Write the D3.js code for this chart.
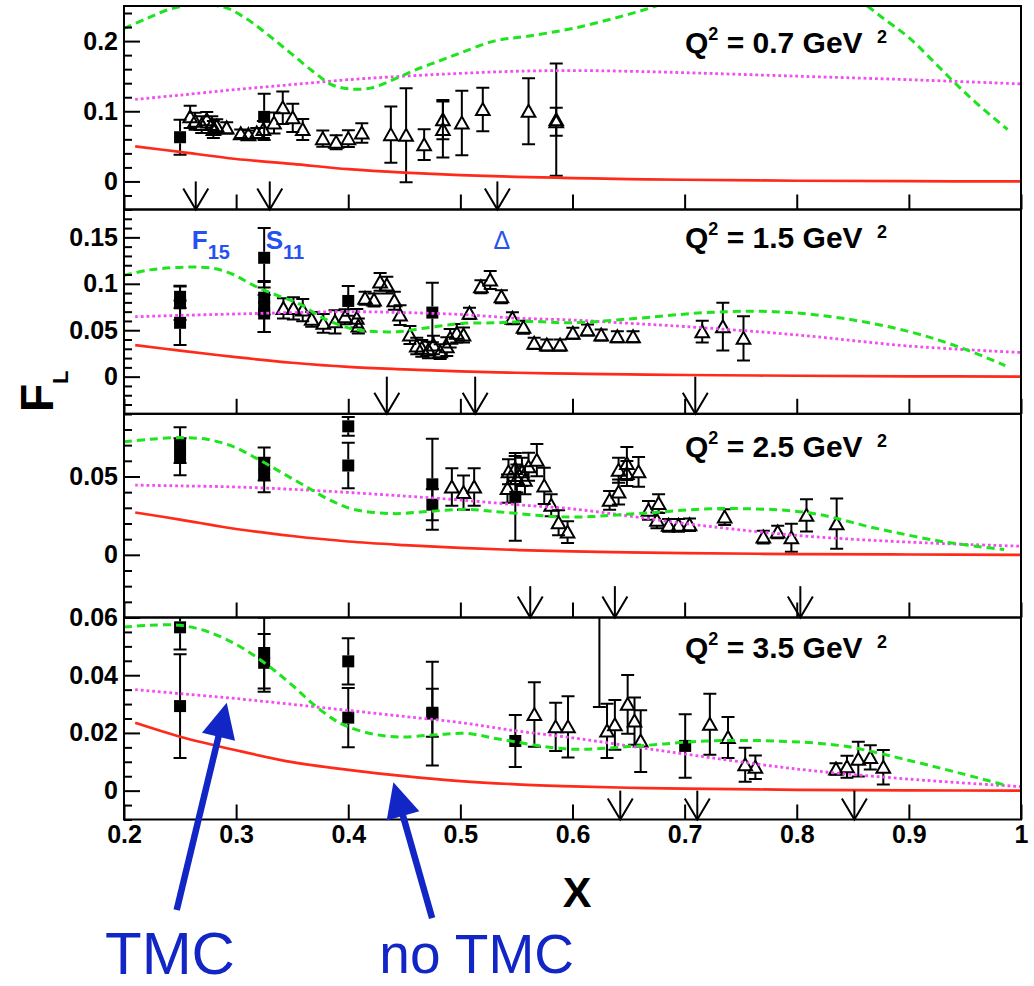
<!DOCTYPE html>
<html><head><meta charset="utf-8">
<script src="https://cdn.jsdelivr.net/npm/d3@7"></script>
<style>body{margin:0;background:#fff}svg{display:block}text{white-space:pre}</style>
</head><body>
<svg id="c" width="1034" height="986"></svg>
<script>
// ---------------- data ----------------
const q2Values = ["0.7", "1.5", "2.5", "3.5"];
const yDomains = [[-0.04, 0.25], [-0.04, 0.18], [-0.04, 0.09], [-0.01, 0.06]];
const yMajorTicks = [[0, 0.1, 0.2], [0, 0.05, 0.1, 0.15], [0, 0.05], [0, 0.02, 0.04, 0.06]];
const yMajorLabels = [["0", "0.1", "0.2"], ["0", "0.05", "0.1", "0.15"], ["0", "0.05"], ["0", "0.02", "0.04", "0.06"]];
const yMinorStep = [0.02, 0.01, 0.01, 0.005];
const xTicks = [0.2, 0.3, 0.4, 0.5, 0.6, 0.7, 0.8, 0.9, 1.0];
const xTickLabels = ["0.2", "0.3", "0.4", "0.5", "0.6", "0.7", "0.8", "0.9", "1"];

// resonance arrows (x positions) and the F_L value they start from
const p1Arrows = [0.264, 0.33, 0.533];
const p2Arrows = [0.4344, 0.5132, 0.7095];
const p3Arrows = [0.5623, 0.6378, 0.8032];
const p4Arrows = [0.6426, 0.7113, 0.8514];
const arrowStart = [0, 0, -0.02, 0];
const resonanceNames = [["F", "15"], ["S", "11"], ["\u0394", ""]];

// data points: [x, F_L, error]
const p1Squares = [[0.25, 0.063, 0.025], [0.325, 0.092, 0.033]];
const p1Triangles = [
  [0.259, 0.092, 0.016], [0.2634, 0.0857, 0.012], [0.2693, 0.081, 0.012], [0.2738, 0.088, 0.011],
  [0.2783, 0.081, 0.012], [0.2797, 0.074, 0.012], [0.2827, 0.0786, 0.010], [0.2916, 0.0763, 0.008],
  [0.3041, 0.068, 0.006], [0.311, 0.0667, 0.006], [0.3184, 0.069, 0.007], [0.3243, 0.074, 0.012],
  [0.3338, 0.0834, 0.015], [0.3416, 0.105, 0.023], [0.3505, 0.0906, 0.020], [0.3594, 0.074, 0.015],
  [0.3773, 0.061, 0.0115], [0.3892, 0.0557, 0.010], [0.4001, 0.061, 0.012], [0.4121, 0.069, 0.014],
  [0.438, 0.0667, 0.040], [0.4516, 0.0657, 0.067], [0.4677, 0.0524, 0.022], [0.4844, 0.088, 0.028],
  [0.4844, 0.074, 0.040], [0.5013, 0.0834, 0.046], [0.52, 0.1024, 0.031], [0.5608, 0.100, 0.047],
  [0.5855, 0.088, 0.080], [0.5855, 0.085, 0.020]];

const p2Squares = [[0.25, 0.086, 0.012], [0.25, 0.079, 0.018], [0.25, 0.058, 0.024],
  [0.325, 0.128, 0.032], [0.325, 0.085, 0.018], [0.325, 0.075, 0.027], [0.325, 0.068, 0.020],
  [0.4, 0.0815, 0.016], [0.475, 0.069, 0.032]];
const p2Triangles = [
  [0.3422, 0.0735, 0.011], [0.3511, 0.0735, 0.012], [0.3594, 0.0717, 0.012], [0.3674, 0.0617, 0.008],
  [0.3777, 0.0574, 0.010], [0.3882, 0.0591, 0.0125], [0.3972, 0.0645, 0.008], [0.4076, 0.0628, 0.010],
  [0.409, 0.0545, 0.008], [0.415, 0.0843, 0.007], [0.423, 0.0825, 0.007], [0.4284, 0.102, 0.0095],
  [0.4344, 0.0986, 0.009], [0.4411, 0.0817, 0.0097], [0.4462, 0.0663, 0.0107], [0.455, 0.0448, 0.0097],
  [0.4611, 0.033, 0.009], [0.4656, 0.0305, 0.009], [0.4715, 0.0287, 0.009], [0.476, 0.034, 0.010],
  [0.482, 0.0269, 0.008], [0.4879, 0.0323, 0.010], [0.4909, 0.0413, 0.010], [0.4968, 0.0467, 0.010],
  [0.5028, 0.0448, 0.008], [0.5081, 0.0682, 0.006], [0.5183, 0.0968, 0.007], [0.5266, 0.104, 0.0097],
  [0.5366, 0.086, 0.007], [0.5464, 0.0628, 0.0065], [0.5563, 0.0531, 0.007], [0.5658, 0.0359, 0.006],
  [0.5771, 0.034, 0.006], [0.5889, 0.034, 0.006], [0.6003, 0.0467, 0.006], [0.6134, 0.0502, 0.006],
  [0.6256, 0.0448, 0.006], [0.64, 0.043, 0.006], [0.654, 0.043, 0.006], [0.7157, 0.0484, 0.0117],
  [0.7341, 0.0538, 0.0257], [0.7525, 0.0413, 0.0238]];

const p3Squares = [[0.25, 0.070, 0.0114], [0.25, 0.0626, 0.0118], [0.325, 0.058, 0.0105], [0.325, 0.051, 0.011],
  [0.4, 0.082, 0.006], [0.4, 0.057, 0.0145], [0.475, 0.045, 0.029], [0.475, 0.032, 0.010], [0.549, 0.037, 0.028]];
const p3Triangles = [
  [0.4924, 0.0433, 0.012], [0.5028, 0.0397, 0.011], [0.5123, 0.0433, 0.012], [0.542, 0.0423, 0.009],
  [0.5429, 0.053, 0.008], [0.5489, 0.0551, 0.008], [0.5504, 0.0487, 0.009], [0.5549, 0.053, 0.009],
  [0.5576, 0.0476, 0.009], [0.5608, 0.0562, 0.009], [0.5682, 0.0604, 0.0103], [0.5748, 0.044, 0.0115],
  [0.581, 0.0316, 0.007], [0.5876, 0.0205, 0.008], [0.5956, 0.0145, 0.007], [0.6331, 0.0348, 0.006],
  [0.6411, 0.0401, 0.008], [0.6411, 0.054, 0.008], [0.6485, 0.0583, 0.0105], [0.6485, 0.0519, 0.008],
  [0.6589, 0.053, 0.0095], [0.6678, 0.0284, 0.006], [0.6768, 0.0327, 0.006], [0.6753, 0.022, 0.005],
  [0.6857, 0.0188, 0.004], [0.6946, 0.0188, 0.004], [0.7044, 0.0192, 0.004], [0.7357, 0.0241, 0.005],
  [0.7702, 0.0113, 0.004], [0.783, 0.0145, 0.004], [0.7952, 0.0109, 0.0089], [0.8087, 0.0252, 0.0103],
  [0.8356, 0.0199, 0.016]];

const p4Squares = [[0.25, 0.0566, 0.0077], [0.25, 0.0293, 0.018], [0.325, 0.0477, 0.0123], [0.325, 0.0443, 0.010],
  [0.4, 0.0448, 0.008], [0.4, 0.0253, 0.0103], [0.475, 0.0267, 0.018], [0.475, 0.027, 0.0083],
  [0.549, 0.0172, 0.009], [0.7005, 0.0155, 0.011]];
const p4Triangles = [
  [0.566, 0.0264, 0.0112], [0.585, 0.0221, 0.0084], [0.596, 0.0221, 0.0106], [0.624, 0.085, 0.056],
  [0.6308, 0.0207, 0.0094], [0.6378, 0.0228, 0.0086], [0.6492, 0.0299, 0.0102], [0.6553, 0.0241, 0.0082],
  [0.6608, 0.0172, 0.0107], [0.7225, 0.023, 0.0106], [0.7387, 0.0184, 0.0071], [0.754, 0.009, 0.0059],
  [0.7631, 0.0081, 0.0041], [0.835, 0.0075, 0.002], [0.8448, 0.0083, 0.0038], [0.8549, 0.0109, 0.006],
  [0.8656, 0.0115, 0.0042], [0.8772, 0.0081, 0.006]];

// model curves: red = no TMC, magenta = TMC (common x grid); green dashed on its own grid
const curveX = [0.21, 0.25, 0.3, 0.35, 0.4, 0.45, 0.5, 0.55, 0.6, 0.65, 0.7, 0.8, 0.9, 1.0];
const p1Red = [0.050, 0.042, 0.032, 0.025, 0.0175, 0.0125, 0.009, 0.0065, 0.0048, 0.0034, 0.0024, 0.001, 0.0003, 0];
const p2Red = [0.034, 0.028, 0.021, 0.015, 0.0105, 0.0078, 0.0056, 0.0042, 0.0032, 0.0025, 0.0018, 0.001, 0.0004, 0];
const p3Red = [0.027, 0.0225, 0.0165, 0.012, 0.0085, 0.0062, 0.0044, 0.0031, 0.0022, 0.0016, 0.0011, 0.0005, 0.0002, 0];
const p4Red = [0.0235, 0.0187, 0.014, 0.0099, 0.0072, 0.005, 0.0033, 0.0022, 0.0015, 0.001, 0.0007, 0.0003, 0.0001, 0];
const p1Magenta = [0.117, 0.123, 0.131, 0.138, 0.145, 0.150, 0.154, 0.157, 0.158, 0.157, 0.155, 0.150, 0.145, 0.139];
const p2Magenta = [0.0645, 0.066, 0.0675, 0.069, 0.070, 0.069, 0.067, 0.063, 0.061, 0.0575, 0.054, 0.045, 0.033, 0.026];
const p3Magenta = [0.0445, 0.044, 0.0433, 0.0418, 0.0398, 0.0375, 0.035, 0.032, 0.0293, 0.0248, 0.020, 0.0124, 0.0081, 0.0055];
const p4Magenta = [0.035, 0.0336, 0.0319, 0.0299, 0.0278, 0.0257, 0.0236, 0.0207, 0.0183, 0.0155, 0.0127, 0.0075, 0.004, 0.0014];

const p1GreenX = [0.2, 0.22, 0.24, 0.265, 0.29, 0.31, 0.33, 0.35, 0.37, 0.385, 0.40, 0.42, 0.44, 0.46, 0.48, 0.5, 0.53, 0.56, 0.6, 0.65, 0.7, 0.75, 0.8, 0.85, 0.88, 0.9, 0.92, 0.94, 0.96, 0.988];
const p1Green = [0.218, 0.232, 0.245, 0.252, 0.248, 0.231, 0.207, 0.181, 0.155, 0.138, 0.132, 0.133, 0.145, 0.159, 0.171, 0.183, 0.200, 0.207, 0.218, 0.238, 0.262, 0.278, 0.28, 0.262, 0.229, 0.205, 0.174, 0.142, 0.112, 0.074];
const p2GreenX = [0.2, 0.223, 0.256, 0.28, 0.2975, 0.315, 0.336, 0.357, 0.378, 0.4, 0.4135, 0.4433, 0.473, 0.5028, 0.5326, 0.562, 0.597, 0.658, 0.719, 0.78, 0.841, 0.902, 0.948, 0.986];
const p2Green = [0.109, 0.115, 0.118, 0.1165, 0.110, 0.0986, 0.0878, 0.078, 0.0628, 0.0525, 0.0495, 0.0484, 0.0531, 0.0574, 0.058, 0.0595, 0.058, 0.0628, 0.069, 0.070, 0.0628, 0.048, 0.0305, 0.0118];
const p3GreenX = [0.2, 0.223, 0.25, 0.274, 0.2975, 0.321, 0.342, 0.363, 0.384, 0.405, 0.44, 0.473, 0.506, 0.5355, 0.597, 0.658, 0.731, 0.81, 0.872, 0.933, 0.985];
const p3Green = [0.0722, 0.0737, 0.0748, 0.0737, 0.069, 0.0604, 0.0519, 0.0433, 0.0348, 0.029, 0.0263, 0.0278, 0.029, 0.0273, 0.0241, 0.0263, 0.0295, 0.0269, 0.0167, 0.0081, 0.0034];
const p4GreenX = [0.2, 0.223, 0.25, 0.274, 0.2975, 0.315, 0.333, 0.351, 0.369, 0.387, 0.4, 0.4225, 0.446, 0.476, 0.506, 0.5355, 0.597, 0.658, 0.719, 0.78, 0.841, 0.902, 0.948, 0.988];
const p4Green = [0.0567, 0.0573, 0.0573, 0.0552, 0.0512, 0.0471, 0.042, 0.0362, 0.0299, 0.0247, 0.0221, 0.0196, 0.0186, 0.0193, 0.0198, 0.0178, 0.0144, 0.0155, 0.0172, 0.0172, 0.0155, 0.0103, 0.0058, 0.0017];

// annotation arrows in the bottom panel (panel-4 data coordinates)
const annotLabels = ["TMC", "no TMC"];
const annotTip = [[0.2916, 0.0305], [0.4403, 0.0029]];
const annotTail = [[0.247, -0.0414], [0.4748, -0.0442]];
const annotLabelX = [0.241, 0.5145];

// ---------------- drawing ----------------
const svg = d3.select("#c");
const FONT = "'Liberation Sans', Arial, Helvetica, sans-serif";
const edges = [6, 209.5, 413.8, 617.5, 819.5];
const x = d3.scaleLinear().domain([0.2, 1]).range([124, 1021]);
const RED = "#ff2a1a", MAG = "#f24cf2", GREEN = "#1ee41e";
const BLUE = "#2650f0", DBLUE = "#1226c6";

const panels = [
  {sq: p1Squares, tri: p1Triangles, red: p1Red, mag: p1Magenta, gx: p1GreenX, gy: p1Green, arrows: p1Arrows},
  {sq: p2Squares, tri: p2Triangles, red: p2Red, mag: p2Magenta, gx: p2GreenX, gy: p2Green, arrows: p2Arrows},
  {sq: p3Squares, tri: p3Triangles, red: p3Red, mag: p3Magenta, gx: p3GreenX, gy: p3Green, arrows: p3Arrows},
  {sq: p4Squares, tri: p4Triangles, red: p4Red, mag: p4Magenta, gx: p4GreenX, gy: p4Green, arrows: p4Arrows}
];
const qLabelY = [53, 248, 457, 658];
const yScales = [];

panels.forEach((p, i) => {
  const top = edges[i], bot = edges[i + 1];
  const y = d3.scaleLinear().domain(yDomains[i]).range([bot, top]);
  yScales.push(y);
  const cid = "clip" + i;
  svg.append("clipPath").attr("id", cid).append("rect")
    .attr("x", 124).attr("y", top).attr("width", 897).attr("height", bot - top);
  const g = svg.append("g");
  const cg = g.append("g").attr("clip-path", `url(#${cid})`);

  // error bars
  const eb = cg.append("g").attr("stroke", "#000").attr("stroke-width", 2).attr("fill", "none");
  function errBars(data, halfUp, halfDn) {
    data.forEach(d => {
      const cx = x(d[0]), cy = y(d[1]), t = y(d[1] + d[2]), b = y(d[1] - d[2]);
      if (cy - halfUp > t) eb.append("line").attr("x1", cx).attr("x2", cx).attr("y1", t).attr("y2", cy - halfUp);
      if (cy + halfDn < b) eb.append("line").attr("x1", cx).attr("x2", cx).attr("y1", cy + halfDn).attr("y2", b);
      eb.append("line").attr("x1", cx - 6.5).attr("x2", cx + 6.5).attr("y1", t).attr("y2", t);
      eb.append("line").attr("x1", cx - 6.5).attr("x2", cx + 6.5).attr("y1", b).attr("y2", b);
    });
  }
  errBars(p.sq, 6, 6);
  errBars(p.tri, 6.5, 5.5);
  cg.append("g").selectAll("rect").data(p.sq).join("rect")
    .attr("x", d => x(d[0]) - 6).attr("y", d => y(d[1]) - 6)
    .attr("width", 12).attr("height", 12).attr("fill", "#000");
  cg.append("g").selectAll("path").data(p.tri).join("path")
    .attr("d", d => { const cx = x(d[0]), cy = y(d[1]); return `M${cx},${cy - 6.5}L${cx + 6.8},${cy + 5.5}L${cx - 6.8},${cy + 5.5}Z`; })
    .attr("fill", "none").attr("stroke", "#000").attr("stroke-width", 2);

  // curves
  const line = d3.line().x(d => x(d[0])).y(d => y(d[1])).curve(d3.curveCatmullRom.alpha(0.5));
  cg.append("path").attr("d", line(curveX.map((v, k) => [v, p.red[k]])))
    .attr("fill", "none").attr("stroke", RED).attr("stroke-width", 2.7);
  cg.append("path").attr("d", line(curveX.map((v, k) => [v, p.mag[k]])))
    .attr("fill", "none").attr("stroke", MAG).attr("stroke-width", 2.8).attr("stroke-dasharray", "2.8,2.9");
  cg.append("path").attr("d", line(p.gx.map((v, k) => [v, p.gy[k]])))
    .attr("fill", "none").attr("stroke", GREEN).attr("stroke-width", 3).attr("stroke-dasharray", "8,5");

  // resonance arrows
  const ag = g.append("g").attr("stroke", "#000").attr("stroke-width", 2).attr("fill", "none");
  p.arrows.forEach(a => {
    const ax = x(a);
    ag.append("line").attr("x1", ax).attr("x2", ax).attr("y1", y(arrowStart[i])).attr("y2", bot);
    ag.append("path").attr("d", `M${ax - 12.5},${bot - 21}L${ax},${bot}L${ax + 12.5},${bot - 21}`);
  });

  // frame
  g.append("rect").attr("x", 124).attr("y", top).attr("width", 897).attr("height", bot - top)
    .attr("fill", "none").attr("stroke", "#000").attr("stroke-width", 2);

  // y axis
  const minors = d3.range(Math.ceil(yDomains[i][0] / yMinorStep[i] - 1e-6), Math.floor(yDomains[i][1] / yMinorStep[i] + 1e-6) + 1)
    .map(k => +(k * yMinorStep[i]).toFixed(4))
    .filter(v => !yMajorTicks[i].some(m => Math.abs(m - v) < 1e-6));
  g.append("g").attr("transform", "translate(124,0)")
    .call(d3.axisLeft(y).tickValues(minors).tickSize(-8).tickFormat(""))
    .call(s => { s.select(".domain").remove(); s.selectAll("line").attr("stroke-width", 2); });
  g.append("g").attr("transform", "translate(124,0)")
    .call(d3.axisLeft(y).tickValues(yMajorTicks[i]).tickSize(-16).tickPadding(6)
      .tickFormat((d, k) => yMajorLabels[i][k]))
    .call(s => {
      s.select(".domain").remove();
      s.selectAll("line").attr("stroke-width", 2);
      s.selectAll("text").attr("font-family", FONT).attr("font-size", 25).attr("font-weight", "bold").attr("fill", "#000");
    });

  // x axis ticks (labels on bottom panel only)
  g.append("g").attr("transform", `translate(0,${bot})`)
    .call(d3.axisBottom(x).tickValues(xTicks).tickSize(-15).tickPadding(6)
      .tickFormat((d, k) => i === 3 ? xTickLabels[k] : ""))
    .call(s => {
      s.select(".domain").remove();
      s.selectAll("line").attr("stroke-width", 2);
      s.selectAll("text").attr("font-family", FONT).attr("font-size", 25).attr("font-weight", "bold").attr("fill", "#000");
    });

  // Q^2 label
  const qt = g.append("text").attr("x", 685).attr("y", qLabelY[i])
    .attr("font-family", FONT).attr("font-weight", "bold").attr("font-size", 30).attr("fill", "#000");
  qt.append("tspan").text("Q");
  qt.append("tspan").attr("font-size", 18).attr("dy", -13).text("2");
  qt.append("tspan").attr("dy", 13).text(" = " + q2Values[i] + " GeV ");
  qt.append("tspan").attr("font-size", 18).attr("dy", -10).attr("dx", 6).text("2");
});

// resonance names in panel 2 (at panel-1 arrow positions)
resonanceNames.forEach((r, k) => {
  const t = svg.append("text").attr("x", x(p1Arrows[k]) - 4).attr("y", yScales[1](0.138))
    .attr("font-family", FONT).attr("fill", BLUE)
    .attr("font-size", r[1] ? 26 : 25).attr("font-weight", r[1] ? "bold" : "normal");
  t.append("tspan").text(r[0]);
  if (r[1]) t.append("tspan").attr("font-size", 20).attr("dy", 10).text(r[1]);
});

// axis titles
svg.append("text").attr("x", 577).attr("y", 907).attr("text-anchor", "middle")
  .attr("font-family", FONT).attr("font-weight", "bold").attr("font-size", 43).text("X");
const fl = svg.append("text").attr("transform", "translate(53,412) rotate(-90)")
  .attr("font-family", FONT).attr("font-weight", "bold").attr("font-size", 46);
fl.append("tspan").text("F");
fl.append("tspan").attr("font-size", 22).attr("dy", 15).text("L");

// annotation arrows
const y4 = yScales[3];
annotLabels.forEach((lab, k) => {
  const tx = x(annotTail[k][0]), ty = y4(annotTail[k][1]);
  const hx = x(annotTip[k][0]), hy = y4(annotTip[k][1]);
  const len = Math.hypot(hx - tx, hy - ty), ux = (hx - tx) / len, uy = (hy - ty) / len;
  const bx = hx - ux * 35, by = hy - uy * 35, px = -uy, py = ux;
  svg.append("line").attr("x1", tx).attr("y1", ty).attr("x2", bx + ux * 2).attr("y2", by + uy * 2)
    .attr("stroke", DBLUE).attr("stroke-width", 6.5);
  svg.append("path").attr("d", `M${hx},${hy}L${bx + px * 17},${by + py * 17}L${bx - px * 17},${by - py * 17}Z`)
    .attr("fill", DBLUE);
  svg.append("text").attr("x", x(annotLabelX[k])).attr("y", k === 0 ? 974 : 973)
    .attr("text-anchor", "middle").attr("font-family", FONT).attr("fill", DBLUE)
    .attr("font-size", k === 0 ? 60 : 55).text(lab);
});
</script>
</body></html>
